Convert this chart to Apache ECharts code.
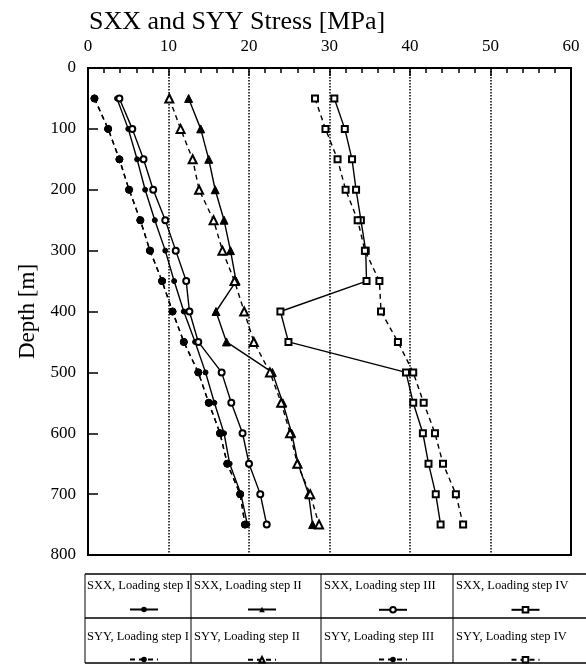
<!DOCTYPE html>
<html>
<head>
<meta charset="utf-8">
<script src="https://cdn.jsdelivr.net/npm/echarts@6/dist/echarts.min.js"></script>
<style>
    html, body { margin: 0; padding: 0; background: #fff; }
    #stress__chart { width: 586px; height: 666px; }
</style>
</head>
<body>
<div id="stress__chart"></div>
<script>
const SERIF = "'Liberation Serif', 'DejaVu Serif', serif";

// depth of every computed point, m
const DEPTHS = [50, 100, 150, 200, 250, 300, 350, 400, 450, 500, 550, 600, 650, 700, 750];

// stresses, MPa
const SXX_STEP_1 = [3.6, 5.0, 6.1, 7.1, 8.3, 9.6, 10.7, 11.9, 13.3, 14.6, 15.7, 16.9, 17.6, 19.0, 19.8];
const SYY_STEP_1 = [0.8, 2.5, 3.9, 5.1, 6.5, 7.7, 9.2, 10.5, 11.9, 13.7, 15.0, 16.4, 17.3, 18.9, 19.5];
const SXX_STEP_2 = [12.5, 14.0, 15.0, 15.8, 16.9, 17.7, 18.4, 15.9, 17.2, 22.9, 24.2, 25.3, 26.1, 27.4, 27.9];
const SYY_STEP_2 = [10.1, 11.5, 13.0, 13.8, 15.6, 16.7, 18.2, 19.4, 20.6, 22.6, 24.0, 25.1, 26.0, 27.6, 28.7];
const SXX_STEP_3 = [3.9, 5.5, 6.9, 8.1, 9.6, 10.9, 12.2, 12.6, 13.7, 16.6, 17.8, 19.2, 20.0, 21.4, 22.2];
const SYY_STEP_3 = [0.8, 2.5, 3.9, 5.1, 6.5, 7.7, 9.2, 10.5, 11.9, 13.7, 15.0, 16.4, 17.3, 18.9, 19.5];
const SXX_STEP_4 = [30.6, 31.9, 32.8, 33.3, 33.9, 34.5, 34.6, 23.9, 24.9, 39.5, 40.4, 41.6, 42.3, 43.2, 43.8];
const SYY_STEP_4 = [28.2, 29.5, 31.0, 32.0, 33.5, 34.4, 36.2, 36.4, 38.5, 40.4, 41.7, 43.1, 44.1, 45.7, 46.6];

const STRESS_TICKS = [0, 10, 20, 30, 40, 50, 60];
const STRESS_MINOR_STEP = 2;
const DEPTH_TICKS = [0, 100, 200, 300, 400, 500, 600, 700, 800];

// legend table layout (columns and rows under the plot)
const TABLE_COLS = [85, 191, 321, 453, 586];
const TABLE_ROWS = [574, 618, 663];

function makeSeries(name, values, dashed, symbol, size) {
    return {
        name: name,
        type: 'line',
        xAxisIndex: 0,
        data: values.map((v, i) => [v, DEPTHS[i]]),
        symbol: symbol,
        symbolSize: size,
        lineStyle: {color: '#000', width: 1.4, type: dashed ? [5, 4] : 'solid'},
        itemStyle: {color: '#000', borderColor: '#000'},
        emphasis: {disabled: true},
    };
}

function initStressChart() {
    let chartDom = document.getElementById('stress__chart');
    let myChart = echarts.init(chartDom);
    let option;

    let series = [
        makeSeries('SXX, Loading step I', SXX_STEP_1, false, 'circle', 5),
        makeSeries('SXX, Loading step II', SXX_STEP_2, false, 'triangle', 8),
        makeSeries('SXX, Loading step III', SXX_STEP_3, false, 'emptyCircle', 6),
        makeSeries('SXX, Loading step IV', SXX_STEP_4, false, 'emptyRect', 6),
        makeSeries('SYY, Loading step I', SYY_STEP_1, true, 'circle', 7),
        makeSeries('SYY, Loading step II', SYY_STEP_2, true, 'emptyTriangle', 8),
        makeSeries('SYY, Loading step III', SYY_STEP_3, true, 'circle', 7),
        makeSeries('SYY, Loading step IV', SYY_STEP_4, true, 'emptyRect', 6),
    ];

    // one legend per table cell, icon only; the cell text is drawn as graphic
    let legends = [];
    let graphics = [];
    series.forEach((s, i) => {
        let col = i % 4;
        let row = Math.floor(i / 4);
        let center = (TABLE_COLS[col] + TABLE_COLS[col + 1]) / 2;
        legends.push({
            data: [s.name],
            left: center - 14,
            top: row === 0 ? 601 : 651,
            itemWidth: 28,
            itemHeight: 7,
            itemGap: 0,
            selectedMode: false,
            formatter: () => '',
        });
        graphics.push({
            type: 'text',
            left: TABLE_COLS[col] + (col === 0 ? 2 : 3),
            top: row === 0 ? 579 : 630,
            style: {
                text: s.name,
                fill: '#000',
                font: '12.5px ' + SERIF,
            },
        });
    });

    TABLE_ROWS.forEach(y => {
        graphics.push({
            type: 'line',
            shape: {x1: TABLE_COLS[0], y1: y, x2: 586, y2: y},
            style: {stroke: '#000', lineWidth: 1.5},
        });
    });
    TABLE_COLS.slice(0, 4).forEach(x => {
        graphics.push({
            type: 'line',
            shape: {x1: x, y1: TABLE_ROWS[0], x2: x, y2: TABLE_ROWS[2]},
            style: {stroke: '#000', lineWidth: 1},
        });
    });

    let stressMin = STRESS_TICKS[0];
    let stressMax = STRESS_TICKS[STRESS_TICKS.length - 1];

    option = {
        animation: false,
        title: {
            text: 'SXX and SYY Stress [MPa]',
            left: 89,
            top: 9,
            padding: 0,
            textStyle: {fontFamily: SERIF, fontSize: 26, fontWeight: 'normal', color: '#000'},
        },
        grid: {
            left: 88,
            right: 15,
            top: 68,
            bottom: 111,
            show: true,
            borderColor: '#000',
            borderWidth: 2,
        },
        xAxis: [
            {
                type: 'value',
                position: 'top',
                min: stressMin,
                max: stressMax,
                interval: STRESS_TICKS[1] - STRESS_TICKS[0],
                axisLine: {show: true, onZero: false, lineStyle: {color: '#000', width: 2}},
                axisTick: {show: true, inside: true, length: 8, lineStyle: {color: '#000', width: 1.5}},
                axisLabel: {color: '#000', fontFamily: SERIF, fontSize: 17, margin: 13},
                splitLine: {show: true, lineStyle: {color: '#000', type: 'dotted', width: 1.5}},
            },
            {
                // small ticks every 2 MPa along the top edge
                type: 'value',
                position: 'top',
                min: stressMin,
                max: stressMax,
                interval: STRESS_MINOR_STEP,
                axisLine: {show: false, onZero: false},
                axisTick: {show: true, inside: true, length: 5, lineStyle: {color: '#000', width: 1.5}},
                axisLabel: {show: false},
                splitLine: {show: false},
            },
        ],
        yAxis: {
            type: 'value',
            inverse: true,
            min: DEPTH_TICKS[0],
            max: DEPTH_TICKS[DEPTH_TICKS.length - 1],
            interval: DEPTH_TICKS[1] - DEPTH_TICKS[0],
            name: 'Depth [m]',
            nameLocation: 'middle',
            nameRotate: 90,
            nameGap: 48,
            nameTextStyle: {fontFamily: SERIF, fontSize: 23, color: '#000'},
            axisLine: {show: true, onZero: false, lineStyle: {color: '#000', width: 2}},
            axisTick: {show: true, inside: true, length: 10, lineStyle: {color: '#000', width: 1.5}},
            axisLabel: {color: '#000', fontFamily: SERIF, fontSize: 17, margin: 12},
            splitLine: {show: false},
        },
        legend: legends,
        graphic: graphics,
        series: series,
    };

    option && myChart.setOption(option);
}

initStressChart();
</script>
</body>
</html>
